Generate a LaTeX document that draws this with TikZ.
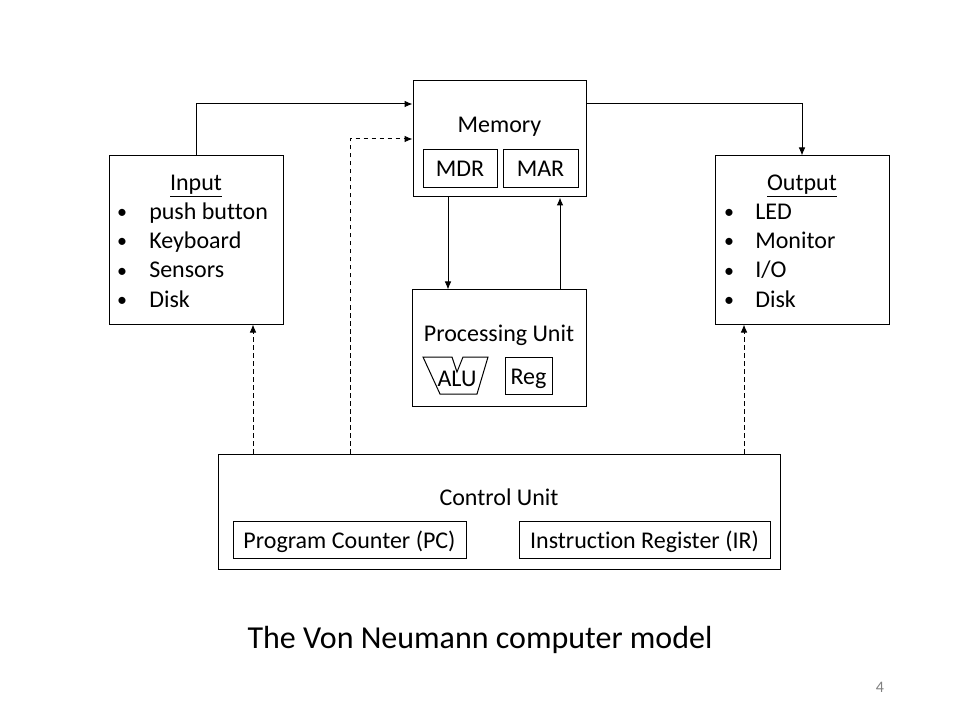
\documentclass[tikz,border=0pt]{standalone}
\usepackage{fontspec}
\setmainfont{Carlito}[Ligatures=CommonOff]
\usetikzlibrary{arrows.meta}
\begin{document}
\begin{tikzpicture}[x=0.75pt,y=-0.75pt,
  box/.style={draw,line width=0.75pt,inner sep=0pt,minimum width=#1},
  lbl/.style={anchor=base,inner sep=0pt,font=\fontsize{18}{21.6}\selectfont},
  item/.style={anchor=base west,inner sep=0pt,font=\fontsize{18}{21.6}\selectfont},
  bul/.style={anchor=base,inner sep=0pt,font=\fontsize{15}{18}\selectfont},
  arr/.style={line width=0.75pt,-{Latex[length=6pt,width=5pt]}},
  darr/.style={arr,dash pattern=on 3.5pt off 2.5pt}]
\useasboundingbox[fill=white] (0,0) rectangle (960,720);
% boxes
\node[box=173*0.75pt,minimum height=116*0.75pt] (mem) at (499.5,139) {};
\node[box=74*0.75pt,minimum height=38*0.75pt] (mdr) at (460,169) {};
\node[box=75*0.75pt,minimum height=38*0.75pt] (mar) at (540.5,169) {};
\node[box=174*0.75pt,minimum height=168*0.75pt] (in) at (196,240) {};
\node[box=174*0.75pt,minimum height=168*0.75pt] (out) at (802,240) {};
\node[box=174*0.75pt,minimum height=116*0.75pt] (pu) at (499,348) {};
\node[box=47*0.75pt,minimum height=37*0.75pt] (reg) at (528.5,375.5) {};
\node[box=562*0.75pt,minimum height=115*0.75pt] (cu) at (499,511.5) {};
\node[box=233*0.75pt,minimum height=37*0.75pt] (pc) at (349.5,539.5) {};
\node[box=251*0.75pt,minimum height=37*0.75pt] (ir) at (644.5,539.5) {};
% ALU shape
\draw[line width=0.75pt,line join=miter] (423,357) -- (452,357) -- (457,372) -- (463,357) -- (488,357) -- (477,394) -- (440,394) -- cycle;
% texts
\node[lbl] (memt) at (499.5,133) {Memory};
\node[lbl] (mdrt) at (460,177) {MDR};
\node[lbl] (mart) at (540.5,177) {MAR};
\node[lbl] (put) at (499,341) {Processing Unit};
\node[lbl] (regt) at (528.5,384) {Reg};
\node[lbl] (alut) at (457,386) {ALU};
\node[lbl] (cut) at (499,505) {Control Unit};
\node[lbl] (pct) at (349.5,548) {Program Counter (PC)};
\node[lbl] (irt) at (644.5,548) {Instruction Register (IR)};
\node[lbl] (int) at (196,191) {\underline{Input}};
\node[lbl] (outt) at (802,191) {\underline{Output}};
\foreach \t [count=\i] in {push button,Keyboard,Sensors,Disk}{
  \node[bul] (inb\i) at (122,190+29*\i) {•};
  \node[item] (ini\i) at (149,191+29*\i) {\t};
}
\foreach \t [count=\i] in {LED,Monitor,I/O,Disk}{
  \node[bul] (outb\i) at (729,190+29*\i) {•};
  \node[item] (outi\i) at (755,191+29*\i) {\t};
}
\node[anchor=base,inner sep=0pt,font=\fontsize{24}{28.8}\selectfont] (title) at (480,648) {The Von Neumann computer model};
\node[anchor=base,inner sep=0pt,font=\fontsize{12}{14.4}\selectfont,text=black!50] (pg) at (880,692) {4};
% connectors
\draw[arr] (in.north) |- (mem.west |- 0,104);
\draw[arr] (mem.east |- 0,104) -| (out.north);
\draw[arr] (mem.south -| 448,0) -- (pu.north -| 448,0);
\draw[arr] (pu.north -| 560,0) -- (mem.south -| 560,0);
\draw[darr] (cu.north -| 350,0) |- (mem.west |- 0,139);
\draw[darr] (cu.north -| 253,0) -- (in.south -| 253,0);
\draw[darr] (cu.north -| 744,0) -- (out.south -| 744,0);
\end{tikzpicture}
\end{document}
